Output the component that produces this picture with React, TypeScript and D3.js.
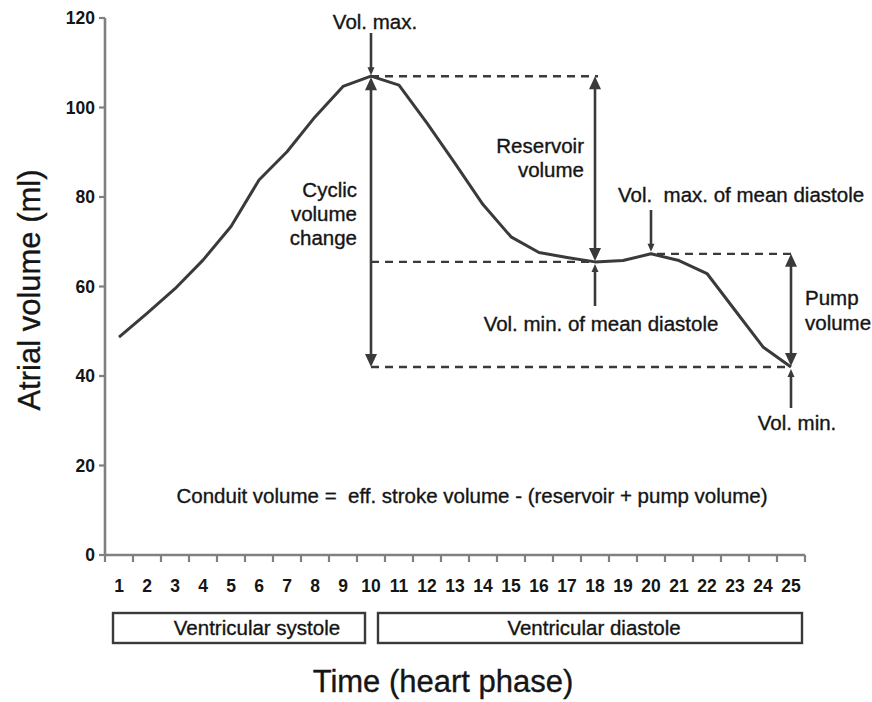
import React from "react";
import * as d3 from "d3";

const phases = [1, 2, 3, 4, 5, 6, 7, 8, 9, 10, 11, 12, 13, 14, 15, 16, 17, 18, 19, 20, 21, 22, 23, 24, 25];
const volume = [48.7, 54, 59.5, 65.9, 73.4, 83.8, 90.1, 97.9, 104.7, 107, 105, 96.5, 87.5, 78.3, 71.1, 67.6, 66.5, 65.5, 65.8, 67.3, 65.8, 62.9, 54.7, 46.5, 42];
const yTicks = [0, 20, 40, 60, 80, 100, 120];
const phaseBlocks = [
  { label: "Ventricular systole", from: 1, to: 9 },
  { label: "Ventricular diastole", from: 11, to: 25 },
];
// key phases: vol max, vol min of mean diastole, vol max of mean diastole, vol min
const keyPhases = { volMax: 10, minMeanDia: 18, maxMeanDia: 20, volMin: 25 };

const W = 872;
const H = 702;
const FONT = "'Liberation Sans', Arial, Helvetica, sans-serif";
const AXIS = "#808080";
const INK = "#3a3a3a";
const TXT = "#151515";
const NB = "\u00a0";

function arrowHead(x: number, y: number, dir: 1 | -1, len: number, hw: number) {
  return `M${x},${y} L${x - hw},${y - dir * len} L${x + hw},${y - dir * len} Z`;
}

function VArrow({ x, y1, y2, headTop, headBottom, big }: { x: number; y1: number; y2: number; headTop: boolean; headBottom: boolean; big: boolean }) {
  const len = big ? 13 : 8;
  const hw = big ? 6 : 3.5;
  const top = headTop ? y1 + len - 1 : y1;
  const bot = headBottom ? y2 - len + 1 : y2;
  return (
    <g>
      <line x1={x} x2={x} y1={top} y2={bot} stroke={INK} strokeWidth={2.6} />
      {headTop && <path d={arrowHead(x, y1, -1, len, hw)} fill={INK} />}
      {headBottom && <path d={arrowHead(x, y2, 1, len, hw)} fill={INK} />}
    </g>
  );
}

export default function App() {
  const x = d3.scaleBand<number>().domain(phases).range([105, 805]).paddingInner(0).paddingOuter(0);
  const cx = (p: number) => (x(p) as number) + x.bandwidth() / 2;
  const y = d3.scaleLinear().domain([0, 120]).range([555, 18]);

  const line = d3
    .line<number>()
    .x((_, i) => cx(phases[i]))
    .y((v) => y(v))
    .curve(d3.curveLinear);

  const vAt = (p: number) => volume[phases.indexOf(p)];
  const vMax = vAt(keyPhases.volMax);
  const vMinMD = vAt(keyPhases.minMeanDia);
  const vMaxMD = vAt(keyPhases.maxMeanDia);
  const vMin = vAt(keyPhases.volMin);

  const xMax = cx(keyPhases.volMax);
  const xMinMD = cx(keyPhases.minMeanDia);
  const xMaxMD = cx(keyPhases.maxMeanDia);
  const xMin = cx(keyPhases.volMin);

  const dash = "8 6";
  const boundaries = phases.map((p) => x(p) as number).concat([805]);
  const heavy = { stroke: TXT, strokeWidth: 0.35 };

  return (
    <svg width={W} height={H} style={{ position: "absolute", left: 0, top: 0, display: "block", background: "#fff" }} fontFamily={FONT}>
      <rect width={W} height={H} fill="#fff" />
      {/* Y axis */}
      <line x1={105} x2={105} y1={y(120)} y2={y(0) + 1} stroke={AXIS} strokeWidth={2.6} />
      {yTicks.map((t) => (
        <g key={t}>
          <line x1={99} x2={105} y1={y(t)} y2={y(t)} stroke={AXIS} strokeWidth={2.2} />
          <text x={95} y={y(t)} dy="0.36em" textAnchor="end" fontSize={17.5} fontWeight="bold" fill={TXT}>
            {t}
          </text>
        </g>
      ))}
      {/* X axis */}
      <line x1={104} x2={805} y1={y(0)} y2={y(0)} stroke={AXIS} strokeWidth={2.6} />
      {boundaries.map((b, i) => (
        <line key={i} x1={b} x2={b} y1={y(0)} y2={y(0) + 7} stroke={AXIS} strokeWidth={2.2} />
      ))}
      {phases.map((p) => (
        <text key={p} x={cx(p)} y={592} textAnchor="middle" fontSize={17.5} fontWeight="bold" fill={TXT}>
          {p}
        </text>
      ))}

      {/* Phase blocks */}
      {phaseBlocks.map((b, i) => {
        const x0 = i === 0 ? (x(b.from) as number) + 8 : (x(b.from) as number) - 7;
        const x1 = i === 0 ? (x(b.to) as number) + x.bandwidth() + 8 : (x(b.to) as number) + x.bandwidth() - 3;
        return (
          <g key={b.label}>
            <rect x={x0} y={613} width={x1 - x0} height={30} fill="none" stroke={INK} strokeWidth={2.4} />
            <text x={i === 0 ? 257 : 594} y={635} textAnchor="middle" fontSize={20.5} fill={TXT} {...heavy}>
              {b.label}
            </text>
          </g>
        );
      })}

      {/* Axis titles */}
      <text x={W / 2 + 7} y={692} textAnchor="middle" fontSize={31} fill={TXT} {...heavy}>
        Time (heart phase)
      </text>
      <text transform={`translate(40,290) rotate(-90)`} textAnchor="middle" fontSize={31} fill={TXT} {...heavy}>
        Atrial volume (ml)
      </text>

      {/* Dashed reference lines */}
      <line x1={xMax} x2={xMinMD + 3} y1={y(vMax)} y2={y(vMax)} stroke={INK} strokeWidth={2.4} strokeDasharray={dash} />
      <line x1={xMax} x2={xMinMD} y1={y(vMinMD)} y2={y(vMinMD)} stroke={INK} strokeWidth={2.4} strokeDasharray={dash} />
      <line x1={xMaxMD + 6} x2={xMin} y1={y(vMaxMD)} y2={y(vMaxMD)} stroke={INK} strokeWidth={2.4} strokeDasharray={dash} />
      <line x1={xMax} x2={xMin} y1={y(vMin)} y2={y(vMin)} stroke={INK} strokeWidth={2.4} strokeDasharray={dash} />

      {/* Curve */}
      <path d={line(volume) || ""} fill="none" stroke={INK} strokeWidth={3} strokeLinejoin="round" />

      {/* Double arrows */}
      <VArrow x={xMax} y1={y(vMax) + 1} y2={y(vMin)} headTop headBottom big />
      <VArrow x={xMinMD} y1={y(vMax)} y2={y(vMinMD) - 1} headTop headBottom big />
      <VArrow x={xMin} y1={y(vMaxMD)} y2={y(vMin) - 1} headTop headBottom big />

      {/* Pointer arrows */}
      <VArrow x={xMax} y1={33} y2={y(vMax) - 1} headTop={false} headBottom big={false} />
      <VArrow x={xMinMD} y1={y(vMinMD) + 2} y2={306} headTop headBottom={false} big={false} />
      <VArrow x={xMaxMD} y1={210} y2={y(vMaxMD) - 2} headTop={false} headBottom big={false} />
      <VArrow x={xMin} y1={y(vMin) + 2} y2={408} headTop headBottom={false} big={false} />

      {/* Annotation texts */}
      <g fontSize={20.5} fill={TXT} {...heavy}>
        <text x={375} y={29} textAnchor="middle">Vol. max.</text>
        <text x={357} y={197} textAnchor="end">Cyclic</text>
        <text x={357} y={221} textAnchor="end">volume</text>
        <text x={357} y={245} textAnchor="end">change</text>
        <text x={584} y={153} textAnchor="end">Reservoir</text>
        <text x={584} y={177} textAnchor="end">volume</text>
        <text x={618} y={202}>{`Vol.${NB} max. of mean diastole`}</text>
        <text x={601} y={331} textAnchor="middle">Vol. min. of mean diastole</text>
        <text x={805} y={305}>Pump</text>
        <text x={805} y={330}>volume</text>
        <text x={797} y={430} textAnchor="middle">Vol. min.</text>
        <text x={472} y={503} textAnchor="middle">{`Conduit volume =${NB} eff. stroke volume - (reservoir + pump volume)`}</text>
      </g>
    </svg>
  );
}
